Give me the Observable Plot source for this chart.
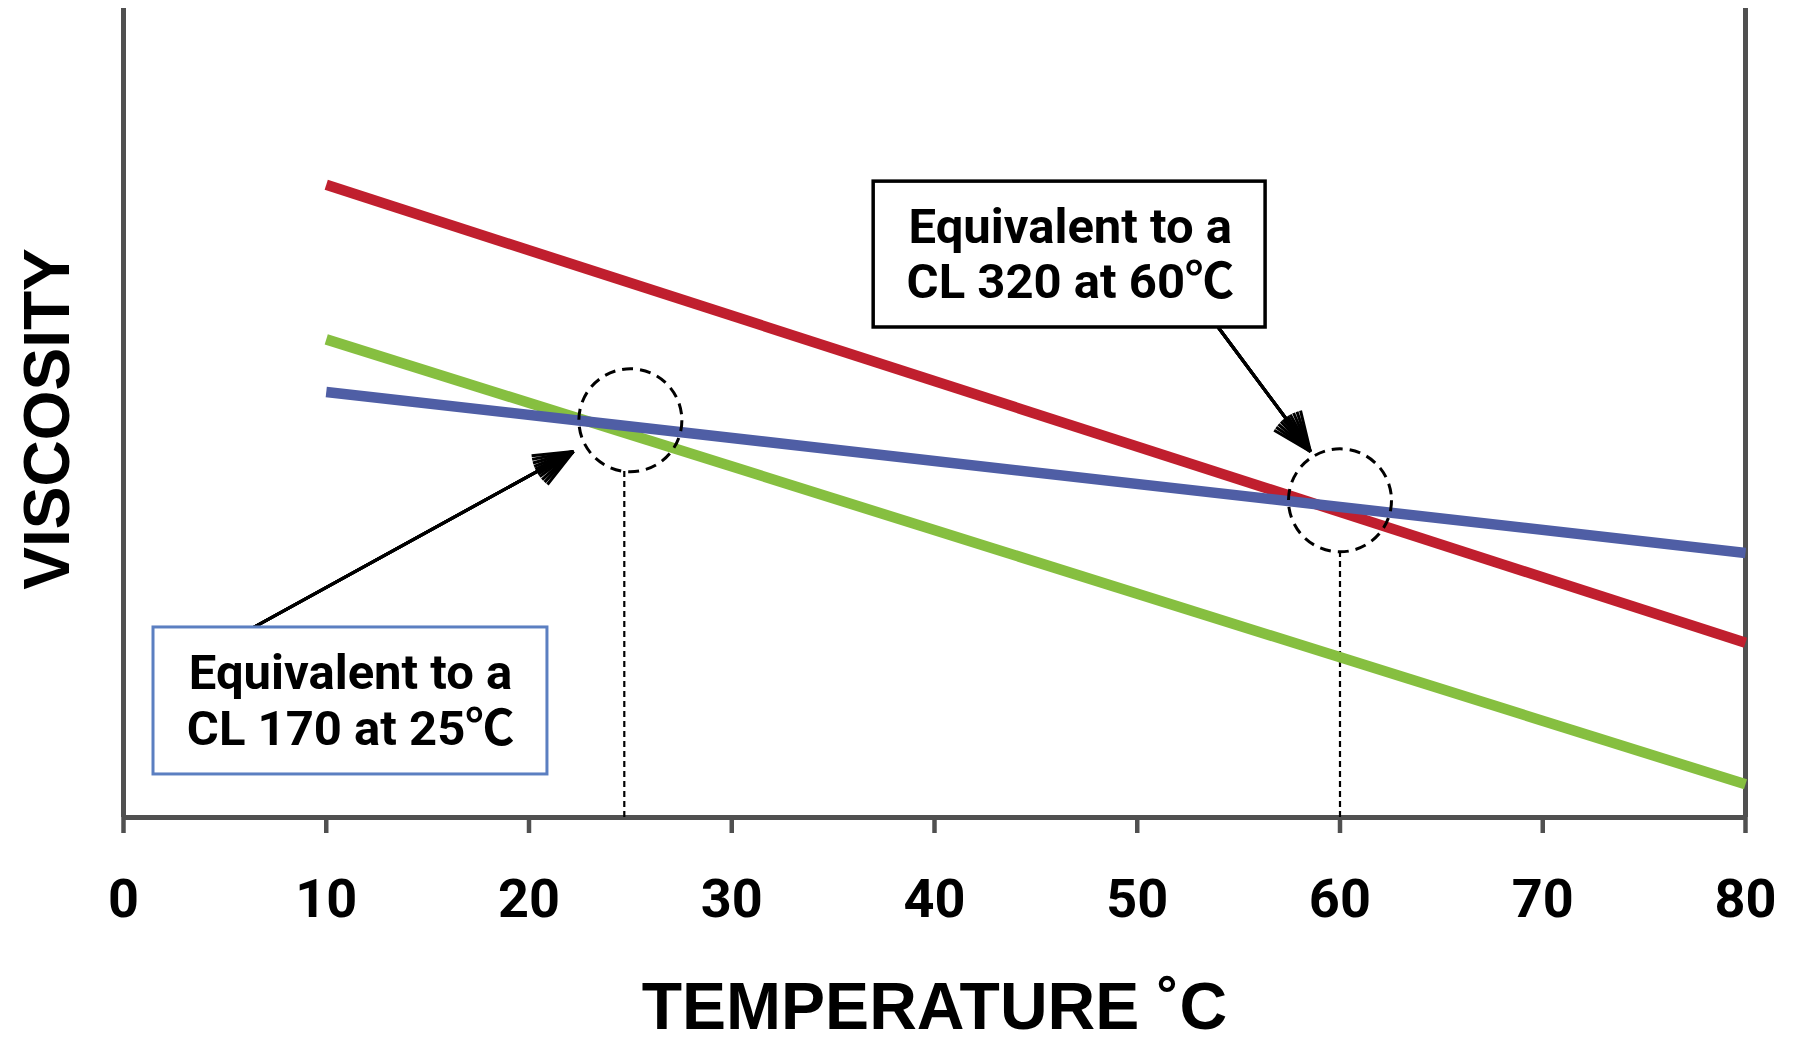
<!DOCTYPE html>
<html>
<head>
<meta charset="utf-8">
<script src="https://cdn.jsdelivr.net/npm/d3@7"></script>
<script src="https://cdn.jsdelivr.net/npm/@observablehq/plot@0.6"></script>
<style>
  html, body { margin: 0; padding: 0; background: #ffffff; }
  #chart svg { display: block; }
</style>
</head>
<body>
<div id="chart"></div>
<script>
// ---- data ----
const temperatures = [10, 80];
const redViscosity = [78.2, 21.6];
const greenViscosity = [59.1, 4.1];
const blueViscosity = [52.6, 32.7];
const xTicks = [0, 10, 20, 30, 40, 50, 60, 70, 80];

// equivalence markers (dashed circles) and their drop lines
const markerTemp = [25, 60];
const markerVisc = [49.1, 39.2];
const dropTemp = [24.7, 60];
const dropTop = [43.0, 33.1];

// callout boxes
const calloutText = ["Equivalent to a\nCL 320 at 60\u2103", "Equivalent to a\nCL 170 at 25\u2103"];
const calloutX1 = [37.0, 1.48];
const calloutX2 = [56.33, 20.91];
const calloutY1 = [60.57, 5.32];
const calloutY2 = [78.6, 23.49];
const calloutTextX = [46.7, 11.2];
const calloutTextY = [69.8, 14.6];

// arrows from callouts to markers
const arrowFromX = [54.0, 6.41];
const arrowFromY = [60.57, 23.49];
const arrowToX = [58.54, 22.19];
const arrowToY = [45.24, 45.24];

const xLabel = "TEMPERATURE \u02DAC";
const yLabel = "VISCOSITY";

// ---- tables ----
const mkSeries = (name, vals) => temperatures.map((t, i) => ({series: name, temp: t, visc: vals[i]}));
const redData = mkSeries("red", redViscosity);
const greenData = mkSeries("green", greenViscosity);
const blueData = mkSeries("blue", blueViscosity);
const markers = markerTemp.map((t, i) => ({temp: t, visc: markerVisc[i]}));
const drops = dropTemp.map((t, i) => ({temp: t, top: dropTop[i]}));
const callouts = calloutText.map((s, i) => ({
  text: s, x1: calloutX1[i], x2: calloutX2[i], y1: calloutY1[i], y2: calloutY2[i],
  tx: calloutTextX[i], ty: calloutTextY[i]
}));
const arrows = arrowFromX.map((x, i) => ({x1: x, y1: arrowFromY[i], x2: arrowToX[i], y2: arrowToY[i]}));

const axisGray = "#505050";
const boxFont = "Roboto, 'Noto Sans CJK SC', 'Liberation Sans', 'DejaVu Sans', sans-serif";
const titleFont = "'Liberation Sans', Arial, 'DejaVu Sans', sans-serif";

// arrow heads drawn as several overlapping barbs so they read as solid
const headAngles = [46, 36, 26, 16, 8];
const arrowMarks = headAngles.map(a =>
  Plot.arrow(arrows, {x1: "x1", y1: "y1", x2: "x2", y2: "y2", stroke: "black", strokeWidth: 3,
    headLength: 21, headAngle: a, strokeLinecap: "butt"})
);

const chart = Plot.plot({
  width: 1805,
  height: 1041,
  marginLeft: 123,
  marginRight: 60,
  marginTop: 8,
  marginBottom: 224,
  x: {domain: [0, 80]},
  y: {domain: [0, 100], axis: null},
  style: {background: "white", overflow: "visible", fontFamily: boxFont},
  marks: [
    Plot.ruleX([0, 80], {stroke: axisGray, strokeWidth: 5}),
    Plot.ruleY([0], {stroke: axisGray, strokeWidth: 5}),
    Plot.axisX({
      ticks: xTicks, tickSize: 16, tickPadding: 45, tickFormat: d => String(d),
      stroke: axisGray, strokeWidth: 4.5, fill: "black",
      fontSize: 54, fontWeight: "bold", fontFamily: boxFont, label: null
    }),
    Plot.ruleX(drops, {x: "temp", y1: 0, y2: "top", stroke: "black", strokeWidth: 2.2, strokeDasharray: "6,4"}),
    Plot.line(redData, {x: "temp", y: "visc", stroke: "#C01F2E", strokeWidth: 10.5, strokeLinecap: "butt"}),
    Plot.line(greenData, {x: "temp", y: "visc", stroke: "#86BF40", strokeWidth: 10.5, strokeLinecap: "butt"}),
    Plot.line(blueData, {x: "temp", y: "visc", stroke: "#4F5EA5", strokeWidth: 10.5, strokeLinecap: "butt"}),
    Plot.dot(markers, {x: "temp", y: "visc", r: 51.5, fill: "none", stroke: "black", strokeWidth: 3, strokeDasharray: "11,7"}),
    ...arrowMarks,
    Plot.rect([callouts[0]], {x1: "x1", x2: "x2", y1: "y1", y2: "y2", fill: "white", stroke: "black", strokeWidth: 3.5}),
    Plot.rect([callouts[1]], {x1: "x1", x2: "x2", y1: "y1", y2: "y2", fill: "white", stroke: "#5B7FC1", strokeWidth: 3}),
    Plot.text(callouts, {
      x: "tx", y: "ty", text: "text", fill: "black", fontSize: 49, fontWeight: "bold",
      fontFamily: boxFont, lineHeight: 1.13, textAnchor: "middle", lineAnchor: "middle"
    }),
    Plot.text([xLabel], {
      frameAnchor: "bottom", dy: 190, textAnchor: "middle", lineAnchor: "middle",
      fontSize: 66, fontWeight: "bold", fontFamily: titleFont, fill: "black"
    }),
    Plot.text([yLabel], {
      frameAnchor: "left", dx: -75, dy: 6, rotate: -90, textAnchor: "middle", lineAnchor: "middle",
      fontSize: 64, fontWeight: "bold", fontFamily: titleFont, fill: "black"
    })
  ]
});
document.getElementById("chart").appendChild(chart);
</script>
</body>
</html>
